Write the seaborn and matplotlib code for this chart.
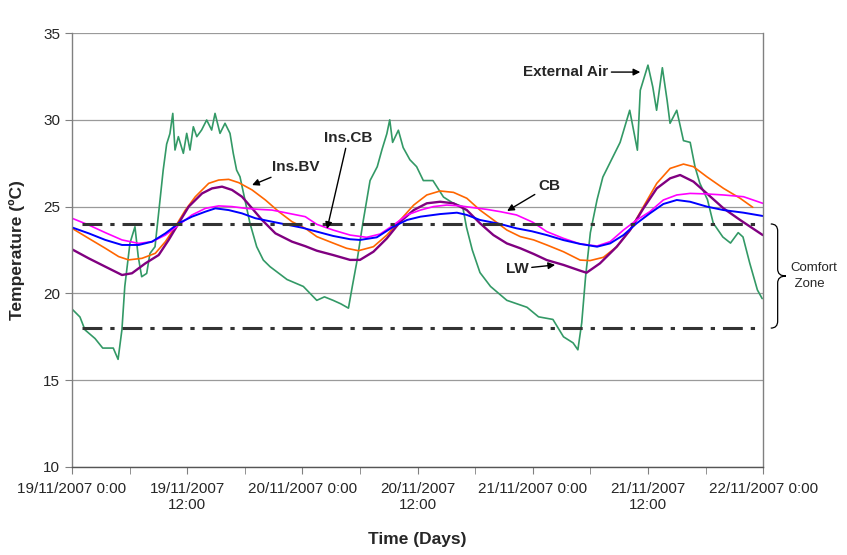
import numpy as np
import pandas as pd
import seaborn as sns
import matplotlib.pyplot as plt
from matplotlib.path import Path
from matplotlib.patches import PathPatch
import matplotlib.transforms as mtransforms

# hours from 19/11/2007 0:00, temperatures in degC
ext_hours = [0, 0.83, 1.35, 2.4, 3.2, 4.3, 4.8, 5.2, 5.5, 6.04, 6.56, 6.9, 7.26, 7.78, 8.12,
             8.65, 9.17, 9.5, 9.86, 10.2, 10.5, 10.73, 11.08, 11.6, 11.95, 12.29, 12.64, 13.0,
             13.5, 14.03, 14.55, 14.9, 15.42, 15.94, 16.46, 16.8, 17.15, 17.5, 18.02, 18.54,
             19.24, 19.93, 20.63, 22.4, 24.1, 24.8, 25.5, 26.3, 27.2, 28.0, 28.8, 29.2, 29.7,
             30.3, 31.05, 31.8, 32.3, 32.8, 33.1, 33.4, 34.0, 34.5, 35.2, 35.9, 36.6, 37.6,
             38.7, 39.7, 40.7, 41.1, 41.7, 42.5, 43.6, 45.3, 47.4, 48.6, 50.1, 51.2, 52.2,
             52.7, 53.1, 53.5, 54.0, 54.7, 55.3, 56.2, 57.1, 58.1, 58.9, 59.2, 60.0, 60.5,
             60.9, 61.5, 62.0, 62.3, 63.0, 63.7, 64.4, 64.9, 65.4, 66.2, 66.8, 67.8, 68.6,
             69.4, 69.9, 70.6, 71.4, 71.9]
ext_temp = [19.1, 18.64, 17.9, 17.4, 16.85, 16.85, 16.2, 17.9, 20.4, 22.9, 23.84, 22.12, 20.96,
            21.15, 22.3, 22.69, 25.38, 27.1, 28.6, 29.2, 30.37, 28.26, 29.03, 28.07, 29.22,
            28.26, 29.6, 29.03, 29.41, 29.99, 29.41, 30.37, 29.22, 29.8, 29.22, 28.07, 27.1,
            26.72, 25.38, 24.04, 22.69, 21.92, 21.54, 20.8, 20.4, 20.0, 19.6, 19.8, 19.6, 19.4,
            19.15, 20.4, 21.9, 24.05, 26.5, 27.3, 28.3, 29.2, 30.0, 28.7, 29.4, 28.4, 27.7,
            27.3, 26.5, 26.5, 25.55, 25.2, 25.0, 23.8, 22.5, 21.2, 20.4, 19.6, 19.2, 18.65,
            18.5, 17.5, 17.15, 16.75, 18.3, 20.95, 23.5, 25.4, 26.7, 27.7, 28.7, 30.55, 28.25,
            31.7, 33.15, 31.9, 30.55, 33.0, 31.1, 29.8, 30.55, 28.8, 28.7, 27.3, 26.35, 25.4,
            24.05, 23.25, 22.9, 23.5, 23.25, 21.75, 20.2, 19.7]

bv_hours = [0, 1.74, 3.47, 4.86, 5.9, 7.29, 8.68, 9.73, 10.77, 11.81, 12.85, 14.24, 15.28,
            16.32, 17.37, 18.76, 20.15, 21.54, 22.92, 24.3, 25.5, 27.2, 28.6, 29.84, 31.4,
            32.8, 34.2, 35.6, 36.96, 38.35, 39.74, 41.13, 42.5, 43.9, 45.3, 46.7, 48.1, 49.46,
            51.2, 52.93, 53.97, 55.36, 56.75, 58.14, 59.53, 60.92, 62.31, 63.7, 64.74, 66.13,
            67.87, 69.6, 70.92]
bv_temp = [23.75, 23.17, 22.6, 22.12, 21.93, 22.02, 22.31, 22.98, 23.85, 24.8, 25.57, 26.34,
           26.53, 26.57, 26.38, 25.96, 25.38, 24.71, 24.13, 23.75, 23.27, 22.9, 22.6, 22.46,
           22.69, 23.36, 24.23, 25.09, 25.67, 25.9, 25.82, 25.48, 24.8, 24.23, 23.65, 23.27,
           23.08, 22.79, 22.4, 21.92, 21.89, 22.08, 22.69, 23.65, 25.0, 26.34, 27.2, 27.45,
           27.3, 26.72, 26.05, 25.48, 24.96]

lw_hours = [0, 1.74, 3.47, 5.21, 6.25, 7.64, 9.03, 10.07, 11.11, 12.16, 13.55, 14.59, 15.63,
            16.67, 17.71, 18.76, 19.8, 21.19, 22.92, 24.3, 25.5, 27.2, 28.97, 30.0, 31.4,
            32.8, 34.2, 35.6, 36.96, 38.35, 39.74, 41.13, 42.5, 43.9, 45.3, 46.7, 48.1, 49.46,
            51.2, 52.93, 53.6, 55.0, 56.75, 58.14, 59.53, 60.92, 62.31, 63.35, 64.74, 66.13,
            67.87, 69.6, 71.96]
lw_temp = [22.54, 22.02, 21.54, 21.06, 21.16, 21.73, 22.21, 23.08, 24.04, 25.0, 25.76, 26.05,
           26.15, 25.96, 25.57, 24.9, 24.23, 23.46, 22.98, 22.72, 22.46, 22.21, 21.93, 21.93,
           22.4, 23.17, 24.13, 24.8, 25.19, 25.28, 25.19, 24.8, 24.04, 23.36, 22.88, 22.6,
           22.27, 21.92, 21.64, 21.31, 21.19, 21.73, 22.69, 23.65, 24.9, 26.05, 26.63, 26.82,
           26.44, 25.76, 24.9, 24.23, 23.36]

cb_hours = [0, 1.74, 3.47, 5.21, 6.95, 8.34, 9.73, 11.11, 12.5, 13.9, 15.28, 16.67, 18.06,
            19.45, 20.84, 22.58, 24.3, 25.5, 27.2, 28.97, 30.7, 32.1, 33.5, 34.9, 36.3, 37.65,
            39.04, 40.43, 41.8, 43.2, 44.6, 46.3, 48.0, 49.46, 51.2, 52.93, 54.7, 56.06, 57.45,
            58.83, 60.2, 61.6, 63.0, 64.39, 66.13, 67.87, 69.95, 71.96]
cb_temp = [24.33, 23.94, 23.5, 23.08, 22.88, 22.98, 23.36, 23.94, 24.52, 24.9, 25.04, 25.0,
           24.9, 24.84, 24.8, 24.61, 24.42, 23.98, 23.65, 23.36, 23.23, 23.42, 23.94, 24.52,
           24.8, 25.0, 25.09, 25.04, 24.94, 24.84, 24.71, 24.52, 24.1, 23.56, 23.17, 22.85,
           22.73, 22.98, 23.65, 24.23, 24.71, 25.38, 25.67, 25.76, 25.73, 25.67, 25.57, 25.19]

inscb_hours = [0, 1.74, 3.47, 5.21, 6.95, 8.34, 9.73, 11.11, 12.5, 13.9, 14.94, 16.32, 17.71,
               19.1, 20.84, 22.58, 24.0, 25.5, 27.2, 28.97, 30.0, 31.75, 33.5, 34.9, 36.3,
               38.35, 40.1, 41.13, 42.5, 44.6, 46.3, 47.9, 49.46, 51.2, 52.93, 54.7, 56.06,
               57.45, 58.83, 60.2, 61.6, 63.0, 64.39, 66.13, 67.87, 69.95, 71.96]
inscb_temp = [23.8, 23.46, 23.08, 22.79, 22.79, 22.98, 23.46, 24.04, 24.42, 24.71, 24.9, 24.8,
              24.61, 24.33, 24.13, 23.94, 23.78, 23.56, 23.31, 23.12, 23.08, 23.23, 23.85,
              24.23, 24.42, 24.57, 24.65, 24.52, 24.23, 24.0, 23.75, 23.58, 23.36, 23.07,
              22.85, 22.69, 22.88, 23.36, 24.04, 24.61, 25.15, 25.38, 25.28, 25.0, 24.8,
              24.65, 24.46]

tick_hours = [0, 12, 24, 36, 48, 60, 72]
tick_labels = ['19/11/2007 0:00', '19/11/2007\n12:00', '20/11/2007 0:00', '20/11/2007\n12:00',
               '21/11/2007 0:00', '21/11/2007\n12:00', '22/11/2007 0:00']

series = [
    ('External Air', ext_hours, ext_temp, '#339966', 1.2),
    ('Ins.BV', bv_hours, bv_temp, '#FF6600', 1.2),
    ('LW', lw_hours, lw_temp, '#800080', 1.7),
    ('CB', cb_hours, cb_temp, '#FF00FF', 1.2),
    ('Ins.CB', inscb_hours, inscb_temp, '#0000FF', 1.4),
]

sns.set_style('white')
plt.rcParams['font.family'] = ['Liberation Sans', 'DejaVu Sans']

fig = plt.figure(figsize=(8.47, 5.55), dpi=100)
ax = fig.add_axes([0.085, 0.1586, 0.816, 0.7819])

for name, hrs, temps, col, w in series:
    df = pd.DataFrame({'hour': hrs, 'temp': temps})
    sns.lineplot(data=df, x='hour', y='temp', color=col, linewidth=w, ax=ax,
                 estimator=None, sort=False)

# comfort zone limits
for lim in (24, 18):
    ax.plot([1.0, 72], [lim, lim], color='#333333', linewidth=2.2,
            linestyle=(0, (6.5, 2.6, 1.4, 2.6)), zorder=5)

ax.set_xlim(0, 72)
ax.set_ylim(10, 35)
ax.set_yticks([10, 15, 20, 25, 30, 35])
ax.set_xticks(tick_hours)
ax.set_xticklabels(tick_labels)
ax.set_xticks(np.arange(6, 72, 12), minor=True)
ax.yaxis.grid(True, color='#9a9a9a', linewidth=0.9)
ax.xaxis.grid(False)
for s in ax.spines.values():
    s.set_color('#808080')
    s.set_linewidth(1.0)
ax.spines['top'].set_visible(False)
ax.spines['bottom'].set_color('#555555')
ax.tick_params(axis='both', which='both', direction='out', length=5, color='#808080',
               labelsize=11, bottom=True, left=True)
ax.tick_params(axis='x', pad=6)
ax.set_xlabel('Time (Days)', fontsize=12.5, fontweight='bold', labelpad=14)
ax.set_ylabel('Temperature (ºC)', fontsize=12.5, fontweight='bold', labelpad=13)

# labels with arrows
notes = [
    ('External Air', (59.2, 32.75), (55.85, 32.75), 'right'),
    ('Ins.BV', (18.76, 26.24), (23.34, 27.28), 'center'),
    ('Ins.CB', (26.57, 23.71), (28.76, 28.95), 'center'),
    ('CB', (45.33, 24.75), (49.7, 26.19), 'center'),
    ('LW', (50.33, 21.64), (46.37, 21.41), 'center'),
]
for txt, tip, pos, ha in notes:
    ax.annotate(txt, xy=tip, xytext=pos, ha=ha, va='center', fontsize=11, fontweight='bold',
                arrowprops=dict(arrowstyle='-|>', color='black', lw=1.0, mutation_scale=10,
                                shrinkA=0, shrinkB=0), zorder=6)

# comfort zone brace
trans = mtransforms.blended_transform_factory(ax.transAxes, ax.transData)
x0, x1, xt = 1.011, 1.021, 1.033
verts = [(x0, 24), (x1, 24), (x1, 23.6), (x1, 21.4), (x1, 21), (xt, 21),
         (x1, 21), (x1, 20.6), (x1, 18.4), (x1, 18), (x0, 18)]
codes = [Path.MOVETO, Path.CURVE3, Path.CURVE3, Path.LINETO, Path.CURVE3, Path.CURVE3,
         Path.CURVE3, Path.CURVE3, Path.LINETO, Path.CURVE3, Path.CURVE3]
ax.add_patch(PathPatch(Path(verts, codes), transform=trans, fill=False, color='black',
                       linewidth=0.9, clip_on=False))
ax.text(1.040, 21.0, 'Comfort\n Zone', transform=trans, fontsize=9.5, ha='left', va='center',
        linespacing=1.45)

fig.savefig('out.png', dpi=100)
